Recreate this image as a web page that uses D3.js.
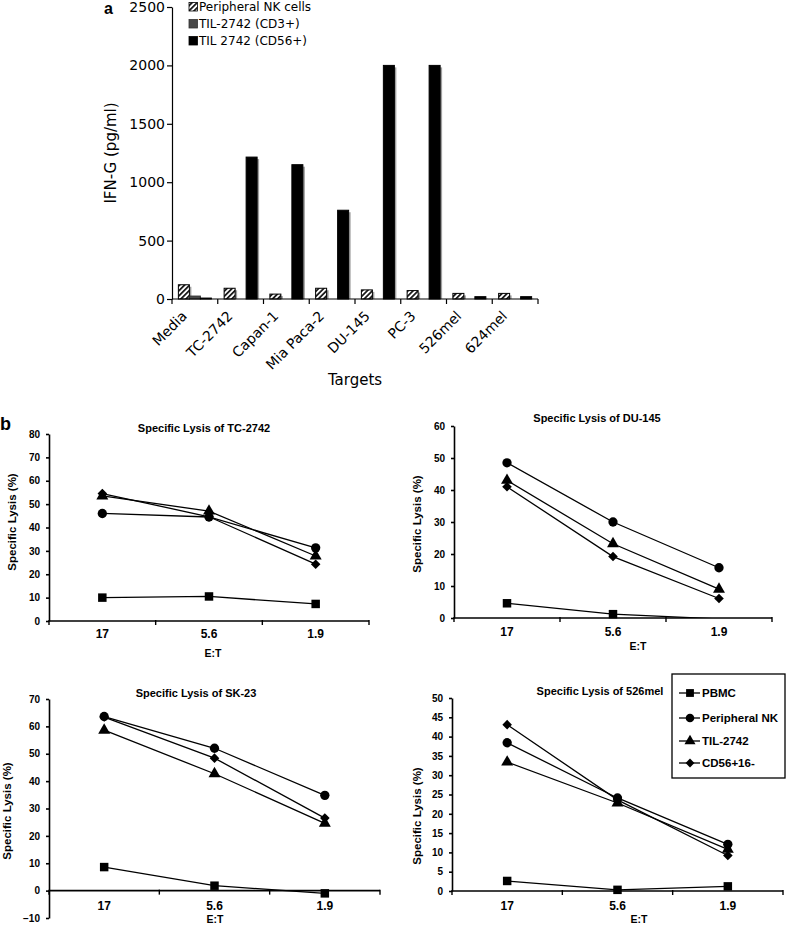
<!DOCTYPE html>
<html><head><meta charset="utf-8">
<script src="https://cdn.jsdelivr.net/npm/d3@7"></script>
<style>body{margin:0;background:#fff} svg{display:block}</style>
</head><body>
<svg id="chart" width="787" height="925"></svg>
<script>
// ---------- Panel a data ----------
const barCategories = ["Media","TC-2742","Capan-1","Mia Paca-2","DU-145","PC-3","526mel","624mel"];
const barSeries = ["Peripheral NK cells","TIL-2742 (CD3+)","TIL 2742 (CD56+)"];
const nkValues   = [122, 92, 42, 92, 78, 72, 48, 48];
const cd3Values  = [25, 0, 0, 0, 0, 0, 0, 0];
const cd56Values = [8, 1215, 1150, 760, 2000, 2000, 20, 20];
const barTicks = [0, 500, 1000, 1500, 2000, 2500];

// ---------- Panel b data ----------
const etRatios = ["17","5.6","1.9"];
const lysisSeries = ["PBMC","Peripheral NK","TIL-2742","CD56+16-"];
const pbmcTC = [10, 10.5, 7.3];
const nkTC   = [46, 44.5, 31.3];
const tilTC  = [53.5, 47, 27.8];
const cd56TC = [54.5, 44.6, 24.3];

const pbmcDU = [4.6, 1.2, -0.3];
const nkDU   = [48.5, 30, 15.7];
const tilDU  = [43, 23.2, 9];
const cd56DU = [41, 19.2, 6.1];

const pbmcSK = [8.6, 1.8, -1];
const nkSK   = [63.6, 52, 34.8];
const tilSK  = [58.6, 42.7, 24.6];
const cd56SK = [63.4, 48.4, 26.5];

const pbmcMel = [2.6, 0.3, 1.2];
const nkMel   = [38.4, 24.1, 12.1];
const tilMel  = [33.4, 22.8, 10.8];
const cd56Mel = [43.1, 23.6, 9.2];

const ticksTC = [0,10,20,30,40,50,60,70,80];
const ticksDU = [0,10,20,30,40,50,60];
const ticksSK = [-10,0,10,20,30,40,50,60,70];
const ticksMel = [0,5,10,15,20,25,30,35,40,45,50];

// ---------- Drawing ----------
const svg = d3.select("#chart");
const defs = svg.append("defs");
const pat = defs.append("pattern").attr("id","hatch").attr("patternUnits","userSpaceOnUse")
  .attr("width",3.6).attr("height",3.6).attr("patternTransform","rotate(45)");
pat.append("rect").attr("width",3.6).attr("height",3.6).attr("fill","#fff");
pat.append("line").attr("x1",0.9).attr("y1",0).attr("x2",0.9).attr("y2",3.6)
  .attr("stroke","#000").attr("stroke-width",1.6);

const sansA = "Verdana, 'DejaVu Sans', sans-serif";
const sansB = "Arial, 'Liberation Sans', sans-serif";

// ===== Panel a =====
const barX = d3.scaleBand().domain(barCategories).range([172, 538]);
const barY = d3.scaleLinear().domain([0, 2500]).range([299, 7]);
const sub = d3.scaleBand().domain(barSeries).range([0, barX.bandwidth()]).paddingOuter(0.58);
const barValues = [nkValues, cd3Values, cd56Values];
const barFills = ["url(#hatch)", "#484848", "#000"];

const gBars = svg.append("g");
barSeries.forEach((s, si) => {
  const rows = barCategories.map((c, i) => ({c, v: barValues[si][i]})).filter(d => d.v > 0);
  gBars.selectAll(null).data(rows).enter().append("rect")
    .attr("x", d => barX(d.c) + sub(s) + 2)
    .attr("y", d => barY(d.v) + 2)
    .attr("width", sub.bandwidth())
    .attr("height", d => Math.max(0, barY(0) - barY(d.v) - 2))
    .attr("fill", "#a0a0a0");
});
barSeries.forEach((s, si) => {
  const rows = barCategories.map((c, i) => ({c, v: barValues[si][i]})).filter(d => d.v > 0);
  gBars.selectAll(null).data(rows).enter().append("rect")
    .attr("x", d => barX(d.c) + sub(s))
    .attr("y", d => barY(d.v))
    .attr("width", sub.bandwidth())
    .attr("height", d => barY(0) - barY(d.v))
    .attr("fill", barFills[si])
    .attr("stroke", si === 1 ? "#333" : "#000").attr("stroke-width", 1);
});

// y axis
const yAxA = svg.append("g").attr("transform", "translate(172,0)")
  .call(d3.axisLeft(barY).tickValues(barTicks).tickFormat(d3.format("d")).tickSize(5).tickSizeOuter(0).tickPadding(2));
yAxA.selectAll("text").attr("font-family", sansA).attr("font-size", 14).attr("fill", "#000");
yAxA.selectAll("line,path").attr("stroke", "#000").attr("stroke-width", 1.2);

// x axis line + boundary ticks
const xAxA = svg.append("g");
xAxA.append("line").attr("x1", barX.range()[0]).attr("x2", barX.range()[1])
  .attr("y1", barY(0)).attr("y2", barY(0)).attr("stroke", "#000").attr("stroke-width", 1.2);
const bounds = barCategories.map(c => barX(c)).concat([barX.range()[1]]);
xAxA.selectAll(null).data(bounds).enter().append("line")
  .attr("x1", d => d).attr("x2", d => d).attr("y1", barY(0)).attr("y2", barY(0) + 5)
  .attr("stroke", "#000").attr("stroke-width", 1.2);
xAxA.selectAll(null).data(barCategories).enter().append("text")
  .attr("transform", c => `translate(${barX(c) + barX.bandwidth()/2 - 7},317) rotate(-45)`)
  .attr("text-anchor", "end").attr("font-family", sansA).attr("font-size", 14).text(c => c);

svg.append("text").attr("x", 355).attr("y", 385).attr("text-anchor", "middle")
  .attr("font-family", sansA).attr("font-size", 15).text("Targets");
svg.append("text").attr("transform", "translate(115.5,153) rotate(-90)").attr("text-anchor", "middle")
  .attr("font-family", sansA).attr("font-size", 15).text("IFN-G (pg/ml)");
svg.append("text").attr("x", 104).attr("y", 14).attr("font-family", sansB)
  .attr("font-weight", "bold").attr("font-size", 16).text("a");

// legend a
const legA = svg.append("g");
barSeries.forEach((s, i) => {
  const by = 11 + i * 17;
  legA.append("rect").attr("x", 189).attr("y", by - 8.5).attr("width", 8.5).attr("height", 8.5)
    .attr("fill", barFills[i]).attr("stroke", i === 1 ? "#333" : "#000").attr("stroke-width", 0.8);
  legA.append("text").attr("x", 199).attr("y", by).attr("font-family", sansA)
    .attr("font-size", 12).text(s);
});

// ===== Panel b =====
svg.append("text").attr("x", 0).attr("y", 430).attr("font-family", sansB)
  .attr("font-weight", "bold").attr("font-size", 18).text("b");

const diamondType = {
  draw(ctx, size) {
    const r = Math.sqrt(size / 2);
    ctx.moveTo(0, -r); ctx.lineTo(r, 0); ctx.lineTo(0, r); ctx.lineTo(-r, 0); ctx.closePath();
  }
};
const symTypes = [d3.symbolSquare, d3.symbolCircle, d3.symbolTriangle, diamondType];
const symSizes = [72, 68, 62, 46];

const panels = [
  {title: "Specific Lysis of TC-2742", series: [pbmcTC, nkTC, tilTC, cd56TC], ticks: ticksTC,
   left: 49, right: 369, top: 434, bottom: 621, titleX: 204, titleY: 432,
   etX: 213, etY: 657, ylabX: 16, ylabY: 522, catY: 638},
  {title: "Specific Lysis of DU-145", series: [pbmcDU, nkDU, tilDU, cd56DU], ticks: ticksDU,
   left: 454, right: 772, top: 426, bottom: 618, titleX: 597, titleY: 422,
   etX: 638, etY: 650, ylabX: 421, ylabY: 524, catY: 636},
  {title: "Specific Lysis of SK-23", series: [pbmcSK, nkSK, tilSK, cd56SK], ticks: ticksSK,
   left: 49, right: 380, top: 699, bottom: 918, titleX: 196, titleY: 697,
   etX: 215, etY: 923, ylabX: 11, ylabY: 811, catY: 910},
  {title: "Specific Lysis of 526mel", series: [pbmcMel, nkMel, tilMel, cd56Mel], ticks: ticksMel,
   left: 452, right: 783, top: 698, bottom: 891, titleX: 600, titleY: 695,
   etX: 639, etY: 923, ylabX: 421, ylabY: 816, catY: 910}
];

panels.forEach((p, pi) => {
  const g = svg.append("g");
  const dom = [p.ticks[0], p.ticks[p.ticks.length - 1]];
  const y = d3.scaleLinear().domain(dom).range([p.bottom, p.top]);
  const x = d3.scaleBand().domain(etRatios).range([p.left, p.right]);
  const xc = c => x(c) + x.bandwidth() / 2;
  const y0 = y(0);

  const clipId = "clip" + pi;
  defs.append("clipPath").attr("id", clipId).append("rect")
    .attr("x", p.left).attr("y", p.top - 10).attr("width", p.right - p.left).attr("height", p.bottom - p.top + 10);

  const ya = g.append("g").attr("transform", `translate(${p.left},0)`)
    .call(d3.axisLeft(y).tickValues(p.ticks).tickSize(3).tickSizeOuter(0).tickPadding(6));
  ya.selectAll("text").attr("font-family", sansB).attr("font-weight", "bold").attr("font-size", 10).attr("fill", "#000");
  ya.selectAll("line,path").attr("stroke", "#000").attr("stroke-width", 1.6);

  g.append("line").attr("x1", p.left).attr("x2", p.right).attr("y1", y0).attr("y2", y0)
    .attr("stroke", "#000").attr("stroke-width", 1.6);
  const bnd = etRatios.map(c => x(c)).concat([x.range()[1]]);
  g.selectAll(null).data(bnd).enter().append("line")
    .attr("x1", d => d).attr("x2", d => d).attr("y1", y0 - 1).attr("y2", y0 + 4)
    .attr("stroke", "#000").attr("stroke-width", 1.4);
  g.selectAll(null).data(etRatios).enter().append("text")
    .attr("x", c => xc(c)).attr("y", p.catY).attr("text-anchor", "middle")
    .attr("font-family", sansB).attr("font-weight", "bold").attr("font-size", 12).text(c => c);

  g.append("text").attr("x", p.etX).attr("y", p.etY).attr("text-anchor", "middle")
    .attr("font-family", sansB).attr("font-weight", "bold").attr("font-size", 10.5).text("E:T");
  g.append("text").attr("x", p.titleX).attr("y", p.titleY).attr("text-anchor", "middle")
    .attr("font-family", sansB).attr("font-weight", "bold").attr("font-size", 11).text(p.title);
  g.append("text").attr("transform", `translate(${p.ylabX},${p.ylabY}) rotate(-90)`).attr("text-anchor", "middle")
    .attr("font-family", sansB).attr("font-weight", "bold").attr("font-size", 11.5).text("Specific Lysis (%)");

  const line = d3.line().x((d, i) => xc(etRatios[i])).y(d => y(d));
  p.series.forEach((vals, si) => {
    g.append("path").attr("d", line(vals)).attr("fill", "none").attr("stroke", "#000")
      .attr("stroke-width", 1.3).attr("clip-path", `url(#${clipId})`);
    const pts = vals.map((v, i) => ({v, c: etRatios[i]})).filter(d => d.v >= dom[0]);
    g.selectAll(null).data(pts).enter().append("path")
      .attr("transform", d => `translate(${xc(d.c)},${y(d.v)})`)
      .attr("d", d3.symbol().type(symTypes[si]).size(symSizes[si]))
      .attr("fill", "#000");
  });
});

// legend b
const legB = svg.append("g");
legB.append("rect").attr("x", 672).attr("y", 674).attr("width", 113).attr("height", 104)
  .attr("fill", "#fff").attr("stroke", "#000").attr("stroke-width", 1.3);
const legYs = [693, 718, 741, 763];
lysisSeries.forEach((s, i) => {
  const ly = legYs[i];
  legB.append("line").attr("x1", 679).attr("x2", 700).attr("y1", ly).attr("y2", ly)
    .attr("stroke", "#000").attr("stroke-width", 1.3);
  legB.append("path").attr("transform", `translate(690,${ly})`)
    .attr("d", d3.symbol().type(symTypes[i]).size(symSizes[i] * 0.85)).attr("fill", "#000");
  legB.append("text").attr("x", 702).attr("y", ly + 4).attr("font-family", sansB)
    .attr("font-weight", "bold").attr("font-size", 11.5).text(s);
});
</script>
</body></html>
